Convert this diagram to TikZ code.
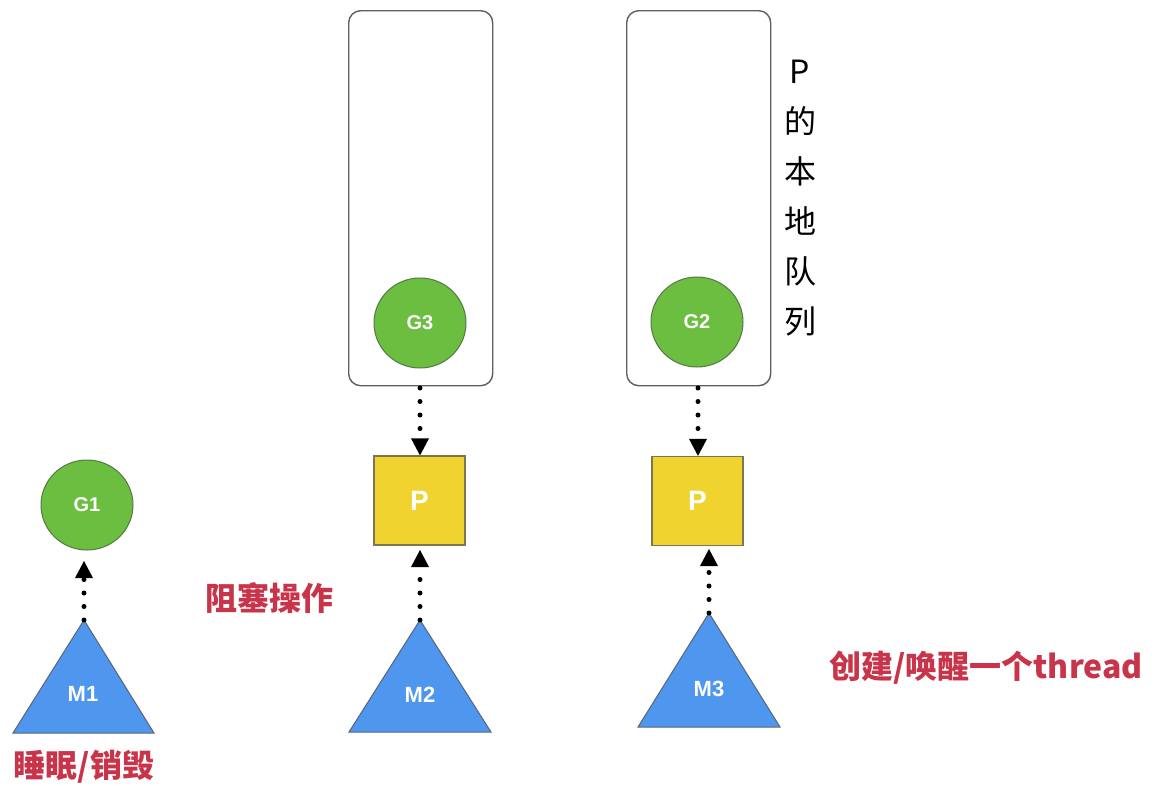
\documentclass[tikz,border=0pt]{standalone}
\usepackage{fontspec}
\newfontfamily\cjk{Noto Sans CJK SC}
\newfontfamily\hv{Liberation Sans}
\usetikzlibrary{arrows.meta,shapes.geometric}
\definecolor{ggreen}{RGB}{108,190,64}
\definecolor{gborder}{RGB}{85,120,70}
\definecolor{pyellow}{RGB}{241,211,48}
\definecolor{pborder}{RGB}{125,118,80}
\definecolor{mblue}{RGB}{78,150,238}
\definecolor{mborder}{RGB}{90,100,120}
\definecolor{redtxt}{RGB}{200,52,74}
\definecolor{qborder}{RGB}{95,95,95}
\tikzset{
  gnode/.style={ellipse, minimum width=92pt, minimum height=90pt, inner sep=0pt, fill=ggreen, draw=gborder, line width=1pt, text=white, font=\hv\bfseries\fontsize{20}{20}\selectfont},
  pnode/.style={rectangle, minimum width=91pt, minimum height=89pt, inner sep=0pt, fill=pyellow, draw=pborder, line width=1.2pt, text=white, font=\hv\bfseries\fontsize{28}{28}\selectfont},
  queue/.style={rectangle, rounded corners=12pt, draw=qborder, line width=1.4pt, fill=white},
  mtri/.style={fill=mblue, draw=mborder, line width=1pt, line join=miter},
  mlabel/.style={text=white, font=\hv\bfseries\fontsize{22}{22}\selectfont},
  redlabel/.style={text=redtxt, font=\cjk\bfseries\fontsize{32}{32}\selectfont},
  vlabel/.style={text=black, font=\cjk\fontsize{32}{32}\selectfont, align=center},
  dotarrow/.style={line width=5pt, line cap=round, dash pattern=on 0pt off 13.5pt, -{Triangle[width=18pt,length=17pt,line width=0pt]}},
}
\begin{document}
\begin{tikzpicture}[x=1pt,y=-1pt]
\useasboundingbox (0,0) rectangle (1159,785);
\fill[white] (0,0) rectangle (1159,785);

% queues
\node[queue, minimum width=144pt, minimum height=375pt, anchor=north west] (q1) at (348,10) {};
\node[queue, minimum width=144pt, minimum height=375pt, anchor=north west] (q2) at (626,10) {};

% goroutines
\node[gnode] (g1) at (87,505) {G1};
\node[gnode] (g3) at (420,323) {G3};
\node[gnode] (g2) at (697,322) {G2};

% processors
\node[pnode] (p1) at (419.5,500.5) {P};
\node[pnode] (p2) at (697.5,501) {P};

% machines (triangles)
\draw[mtri] (84,620) -- (154,733) -- (13,733) -- cycle;
\coordinate (m1top) at (84,620);
\node[mlabel] (m1) at (83,694) {M1};
\draw[mtri] (420,620) -- (491,732) -- (349,732) -- cycle;
\coordinate (m2top) at (420,620);
\node[mlabel] (m2) at (420,695) {M2};
\draw[mtri] (709,613) -- (780,727) -- (638,727) -- cycle;
\coordinate (m3top) at (709,613);
\node[mlabel] (m3) at (709,689) {M3};

% connectors
\coordinate (q1b) at (420,388);
\coordinate (q2b) at (698,388);
\draw[dotarrow] (m1top) -- (84,561);
\draw[dotarrow] (q1b) -- (q1b |- p1.north);
\draw[dotarrow] (q2b) -- (q2b |- p2.north);
\draw[dotarrow] (m2top) -- (420,550);
\draw[dotarrow] (m3top) -- (709,549);

% labels
\node[redlabel] (t1) at (84,767) {睡眠/销毁};
\node[redlabel] (t2) at (269,598) {阻塞操作};
\node[redlabel] (t3) at (986,668) {创建/唤醒一个thread};
\node[vlabel] (t4) at (800,198) {P\\[18pt]的\\[18pt]本\\[18pt]地\\[18pt]队\\[18pt]列};
\end{tikzpicture}
\end{document}
